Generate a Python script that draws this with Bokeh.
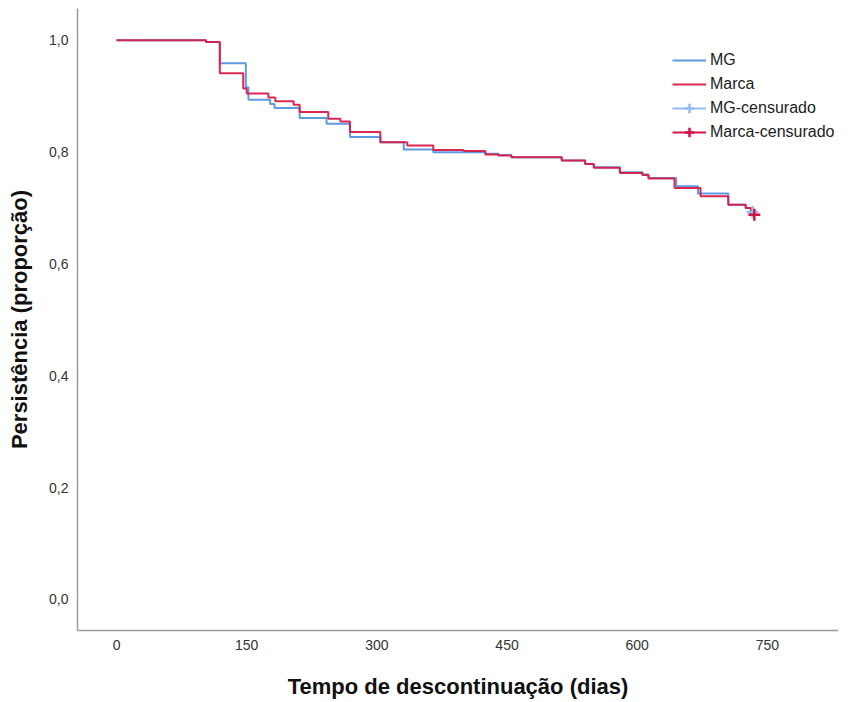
from bokeh.plotting import figure
from bokeh.models import (Range1d, FixedTicker, CustomJSTickFormatter, Legend,
                          LegendItem)
from bokeh.embed import file_html
from bokeh.resources import INLINE

# ---- data ----
mg_dias = [0, 103, 119, 149, 152, 177, 182, 211, 242, 269, 304, 331, 365,
           425, 440, 455, 513, 540, 550, 580, 606, 613, 645, 670, 705, 725, 731]
mg_surv = [1.0, 0.997, 0.959, 0.916, 0.894, 0.886, 0.879, 0.861, 0.851, 0.827,
           0.818, 0.805, 0.800, 0.797, 0.795, 0.791, 0.785, 0.779, 0.773, 0.764,
           0.760, 0.754, 0.739, 0.726, 0.706, 0.700, 0.693]

marca_dias = [0, 103, 119, 146, 150, 175, 183, 204, 211, 244, 258, 269, 304,
              335, 365, 400, 425, 440, 455, 513, 540, 550, 580, 606, 613, 643,
              673, 705, 725, 731]
marca_surv = [1.0, 0.997, 0.941, 0.914, 0.905, 0.898, 0.891, 0.885, 0.872,
              0.860, 0.855, 0.836, 0.818, 0.812, 0.804, 0.802, 0.796, 0.794,
              0.791, 0.785, 0.779, 0.772, 0.763, 0.759, 0.753, 0.736, 0.721,
              0.706, 0.700, 0.688]

mg_cens_dia = [733]
mg_cens_surv = [0.693]
marca_cens_dia = [735]
marca_cens_surv = [0.688]

x_ticks = [0, 150, 300, 450, 600, 750]
y_ticks = [0.0, 0.2, 0.4, 0.6, 0.8, 1.0]

blue = "#4a8fdf"
red = "#d81c4a"
blue_c = "#93bdf0"
red_c = "#d3134a"

p = figure(width=838, height=702,
           x_range=Range1d(-45, 832), y_range=Range1d(-0.0555, 1.057),
           output_backend="svg", toolbar_location=None,
           min_border_left=77, min_border_right=0, min_border_top=8,
           min_border_bottom=72)

p.outline_line_color = None
p.xgrid.visible = False
p.ygrid.visible = False
p.background_fill_color = "white"

for ax in (p.xaxis[0], p.yaxis[0]):
    ax.axis_line_color = "#9a9a9a"
    ax.axis_line_width = 1.5
    ax.major_tick_line_color = None
    ax.minor_tick_line_color = None
    ax.major_tick_out = 0
    ax.major_tick_in = 0
    ax.minor_tick_out = 0
    ax.minor_tick_in = 0
    ax.major_label_text_font = "Liberation Sans"
    ax.major_label_text_font_size = "14px"
    ax.major_label_text_color = "#333333"
    ax.axis_label_text_font = "Liberation Sans"
    ax.axis_label_text_font_size = "22px"
    ax.axis_label_text_font_style = "bold"
    ax.axis_label_text_color = "#111111"

p.xaxis.major_label_standoff = 9
p.yaxis.major_label_standoff = 9
p.xaxis.ticker = FixedTicker(ticks=x_ticks)
p.yaxis.ticker = FixedTicker(ticks=y_ticks)
p.yaxis.formatter = CustomJSTickFormatter(code="return tick.toFixed(1).replace('.', ',');")
p.xaxis.axis_label = "Tempo de descontinuação (dias)"
p.yaxis.axis_label = "Persistência (proporção)"
p.xaxis.axis_label_standoff = 21
p.yaxis.axis_label_standoff = 14

mg_x = mg_dias + mg_cens_dia
mg_y = mg_surv + mg_cens_surv
ma_x = marca_dias + marca_cens_dia
ma_y = marca_surv + marca_cens_surv

r_mg = p.step(mg_x, mg_y, mode="after", line_color=blue, line_width=2, line_alpha=0.9)
r_ma = p.step(ma_x, ma_y, mode="after", line_color=red, line_width=2, line_alpha=0.95)

r_mg_c = p.scatter(mg_cens_dia, mg_cens_surv, marker="cross", size=12,
                   line_color=blue_c, line_width=2.5)
r_ma_c = p.scatter(marca_cens_dia, marca_cens_surv, marker="cross", size=12,
                   line_color=red_c, line_width=2.5)

# single-point lines: invisible in the plot, give the legend its horizontal stroke
l_mg_c = p.line(mg_cens_dia, mg_cens_surv, line_color=blue_c, line_width=2)
l_ma_c = p.line(marca_cens_dia, marca_cens_surv, line_color=red_c, line_width=2)

legend = Legend(items=[
    LegendItem(label="MG", renderers=[r_mg]),
    LegendItem(label="Marca", renderers=[r_ma]),
    LegendItem(label="MG-censurado", renderers=[l_mg_c, r_mg_c]),
    LegendItem(label="Marca-censurado", renderers=[l_ma_c, r_ma_c]),
], location=(595, 486))
legend.glyph_width = 34
legend.glyph_height = 24
legend.label_height = 20
legend.spacing = 0
legend.padding = 0
legend.margin = 0
legend.label_standoff = 4
legend.border_line_color = None
legend.background_fill_alpha = 0
legend.label_text_font = "Liberation Sans"
legend.label_text_font_size = "16px"
legend.label_text_color = "#222222"
p.add_layout(legend, "center")

open("out.html", "w").write(file_html(p, INLINE))
